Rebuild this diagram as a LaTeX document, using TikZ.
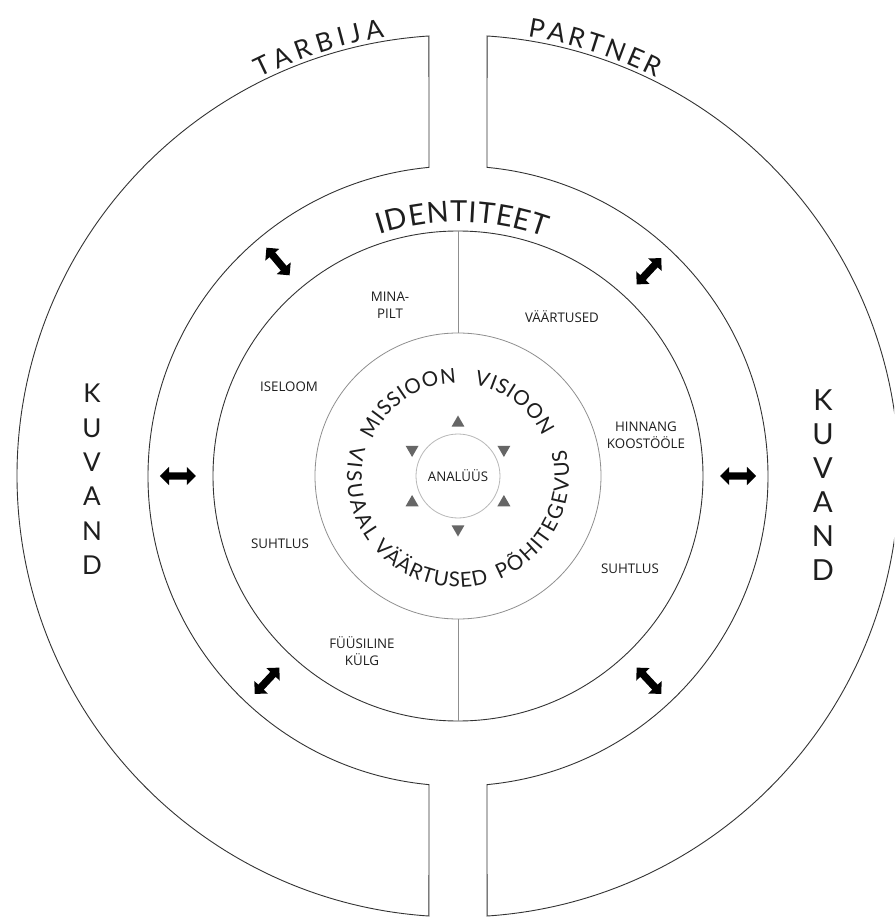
\documentclass[tikz,border=0pt]{standalone}
\usepackage{fontspec}
\setmainfont{Lato}
\newfontfamily\labelfamily{Open Sans}
\usetikzlibrary{shapes.arrows,shapes.geometric,decorations.text}

\definecolor{ink}{HTML}{1E1E1E}
\definecolor{rulegray}{HTML}{333333}
\definecolor{midgray}{HTML}{8F8F8F}
\definecolor{palegray}{HTML}{B8B8B8}
\definecolor{trigray}{HTML}{666666}

\newcommand\labelfont{\labelfamily\fontsize{13.3}{16.5}\selectfont}
\newcommand\ringfont{\fontsize{20.5}{20.5}\selectfont}
\newcommand\idfont{\fontsize{29}{29}\selectfont}
\newcommand\sidefont{\fontsize{26}{26}\selectfont}

\tikzset{
  ring/.style={draw=rulegray, line width=0.9pt},
  inner ring/.style={draw=midgray, line width=0.8pt},
  core ring/.style={draw=palegray, line width=0.8pt},
  divider/.style={draw=midgray, line width=0.9pt},
  small label/.style={font=\labelfont, text=ink, align=center, inner sep=0pt},
  kuvand/.style={font=\fontsize{26}{26}\selectfont, text=ink, inner sep=0pt},
  swap arrow/.style={double arrow, fill=black, draw=none, inner xsep=0pt,
    inner ysep=3.5pt, minimum height=36pt, double arrow head extend=5.5pt},
  pointer/.style={regular polygon, regular polygon sides=3, fill=trigray,
    inner sep=0pt, minimum size=15pt},
}

\begin{document}
\begin{tikzpicture}[x=1pt,y=1pt]
\useasboundingbox (-458,-442) rectangle (436,476);
\fill[white] (-458,-442) rectangle (436,476);
\clip (-458,-442) rectangle (436,476);

% outer band, cut open at top and bottom
\draw[ring] (93.78:441) arc[start angle=93.78, end angle=266.22, radius=441]
  -- (264.63:310) arc[start angle=264.63, end angle=95.37, radius=310] -- cycle;
\draw[ring] (86.22:441) arc[start angle=86.22, end angle=-86.22, radius=441]
  -- (-84.63:310) arc[start angle=-84.63, end angle=84.63, radius=310] -- cycle;

% rings
\draw[ring] (0,0) circle[radius=245];
\draw[inner ring] (0,0) circle[radius=143];
\node[core ring, circle, minimum size=84pt, inner sep=0pt, small label] (analyys) at (0,0) {ANALÜÜS};

\coordinate (idtop) at (90:245);
\coordinate (midtop) at (90:143);
\coordinate (midbot) at (270:143);
\coordinate (idbot) at (270:245);
\draw[divider] (idtop) -- (midtop);
\draw[divider] (midbot) -- (idbot);

% curved titles
\path[decorate, decoration={text along path, text align=fit to path,
  text={|\sidefont\color{ink}|TARBIJA}}]
  (116.5:445) arc[start angle=116.5, end angle=99.5, radius=445];
\path[decorate, decoration={text along path, text align=fit to path,
  text={|\sidefont\color{ink}|PARTNER}}]
  (81:445) arc[start angle=81, end angle=63.5, radius=445];
\path[decorate, decoration={text along path, text align=fit to path,
  text={|\idfont\color{ink}|IDENTITEET}}]
  (108:254) arc[start angle=108, end angle=70, radius=254];

% inner ring words
\path[decorate, decoration={text along path, text align=fit to path,
  text={|\ringfont\color{ink}|MISSIOON}}]
  (157:93) arc[start angle=157, end angle=91, radius=93];
\path[decorate, decoration={text along path, text align=fit to path,
  text={|\ringfont\color{ink}|VISIOON}}]
  (80:93) arc[start angle=80, end angle=25, radius=93];
\path[decorate, decoration={text along path, text align=fit to path,
  text={|\ringfont\color{ink}|VISUAAL}}]
  (164:111) arc[start angle=164, end angle=216, radius=111];
\path[decorate, decoration={text along path, text align=fit to path,
  text={|\ringfont\color{ink}|VÄÄRTUSED}}]
  (220:111) arc[start angle=220, end angle=286, radius=111];
\path[decorate, decoration={text along path, text align=fit to path,
  text={|\ringfont\color{ink}|PÕHITEGEVUS}}]
  (292:111) arc[start angle=292, end angle=374, radius=111];

% KUVAND on both sides
\foreach \l [count=\i] in {K,U,V,A,N,D}
  \node[kuvand] (kl\i) at (-366,117-34.4*\i) {\l};
\foreach \l [count=\i] in {K,U,V,A,N,D}
  \node[kuvand, font=\fontsize{29}{29}\selectfont] (kr\i) at (365,110-34*\i) {\l};

% identity labels
\node[small label] (minapilt) at (-68,171) {MINA-\\PILT};
\node[small label] (vaartused) at (104,159) {VÄÄRTUSED};
\node[small label] (iseloom) at (-169,89) {ISELOOM};
\node[small label] (hinnang) at (188,41) {HINNANG\\KOOSTÖÖLE};
\node[small label] (suhtlusl) at (-178,-68) {SUHTLUS};
\node[small label] (fyysiline) at (-96,-175) {FÜÜSILINE\\KÜLG};
\node[small label] (suhtlusr) at (172,-93) {SUHTLUS};

% arrows between rings
\foreach \a in {0,47,130,180,227,313}
  \node[swap arrow, rotate=\a] (sw\a) at (\a:280) {};

% pointers round the core
\foreach \a in {30,90,150,210,270,330}
  \node[pointer, rotate=\a-90] (pt\a) at (\a:53) {};
\end{tikzpicture}
\end{document}
